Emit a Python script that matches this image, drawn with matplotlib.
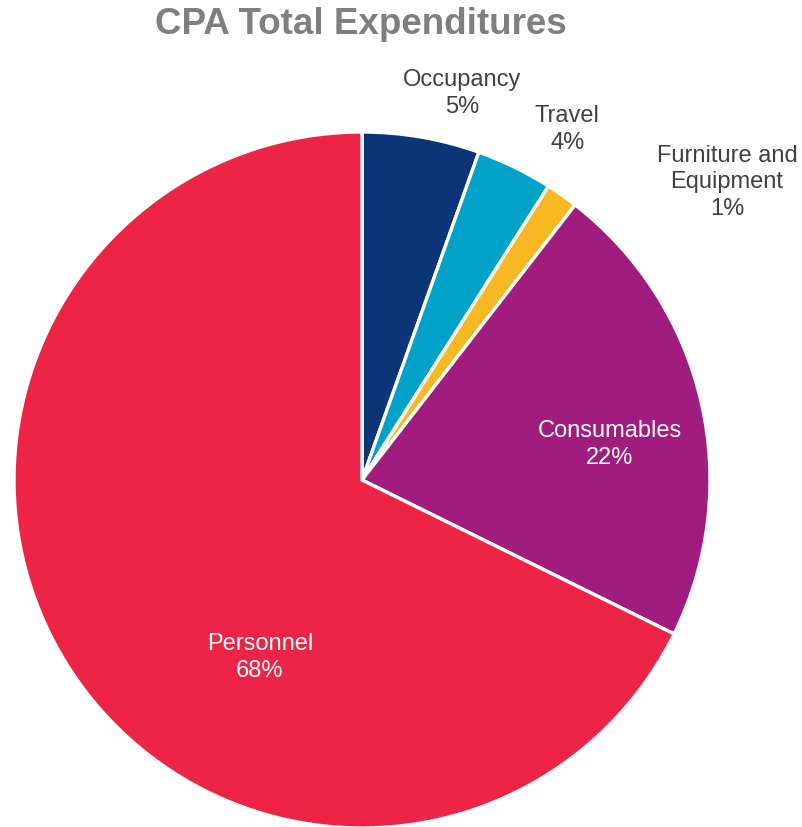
import numpy as np
import matplotlib
matplotlib.use("Agg")
import matplotlib.pyplot as plt

plt.rcParams["font.family"] = ["Liberation Sans", "DejaVu Sans"]

categories = ["Occupancy", "Travel", "Furniture and\nEquipment", "Consumables", "Personnel"]
shares = [5.45, 3.55, 1.49, 21.8, 67.7]
colors = ["#0C3577", "#00A2CA", "#F7B822", "#A01C7E", "#EE2447"]

# label placement as (radius, angle in degrees) plus text colour
label_pos = [(1.15, 75.5), (1.17, 59.7), (1.355, 39.3), (0.72, 8.3), (0.585, 239.9)]
label_colors = ["#404040", "#404040", "#404040", "white", "white"]

fig = plt.figure(figsize=(8.02, 8.28), dpi=100)
ax = fig.add_axes([14 / 802, -1 / 828, 696 / 802, 696 / 828])

wedges, _ = ax.pie(
    shares,
    colors=colors,
    startangle=90,
    counterclock=False,
    wedgeprops=dict(edgecolor="white", linewidth=2.4),
)
for w in wedges:
    w.set_clip_on(False)

total = sum(shares)
for name, value, (r, ang), tc in zip(categories, shares, label_pos, label_colors):
    t = np.radians(ang)
    ax.text(
        r * np.cos(t),
        r * np.sin(t),
        f"{name}\n{value / total * 100:.0f}%",
        ha="center",
        va="center",
        fontsize=17,
        color=tc,
        linespacing=1.28,
        clip_on=False,
    )

ax.set_xlim(-1, 1)
ax.set_ylim(-1, 1)
ax.set_aspect("equal")

fig.text(
    0.4496,
    1 - 25 / 828,
    "CPA Total Expenditures",
    ha="center",
    va="center",
    fontsize=26.5,
    fontweight="bold",
    color="#7F7F7F",
)

fig.savefig("out.png", dpi=100)
